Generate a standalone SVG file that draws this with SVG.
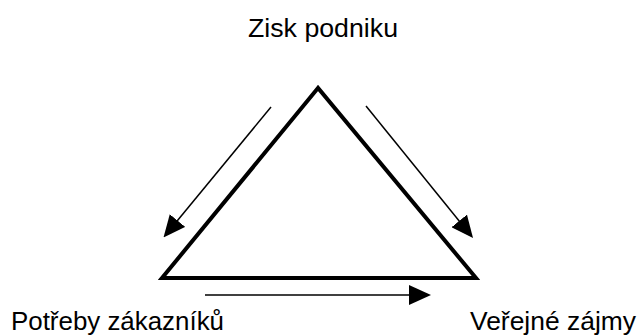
<svg xmlns="http://www.w3.org/2000/svg" width="638" height="336" viewBox="0 0 638 336">
  <defs>
    <marker id="ah" viewBox="0 0 22 20" markerWidth="22" markerHeight="20" refX="11" refY="10" markerUnits="userSpaceOnUse" orient="auto">
      <path d="M0,0 L22,10 L0,20 z" fill="#000"/>
    </marker>
    <style>
      .lbl { font-family: "Liberation Sans", Arial, sans-serif; font-size: 26px; fill: #000; }
      .arrow { stroke: #000; stroke-width: 1.5; fill: none; marker-end: url(#ah); }
      .tri { stroke: #000; stroke-width: 4; fill: #fff; stroke-linejoin: miter; }
    </style>
  </defs>
  <rect width="638" height="336" fill="#fff"/>
  <g id="triangle">
    <polygon class="tri" points="318,88 162,278 476,278"/>
  </g>
  <g id="zisk">
    <text class="lbl" x="323" y="37" text-anchor="middle" textLength="150" lengthAdjust="spacingAndGlyphs">Zisk podniku</text>
  </g>
  <g id="potreby">
    <text class="lbl" x="11" y="330" textLength="213" lengthAdjust="spacingAndGlyphs">Potřeby zákazníků</text>
  </g>
  <g id="verejne">
    <text class="lbl" x="470" y="330" textLength="166" lengthAdjust="spacingAndGlyphs">Veřejné zájmy</text>
  </g>
  <g id="connectors">
    <line class="arrow" x1="271" y1="107" x2="170.5" y2="229"/>
    <line class="arrow" x1="366" y1="106" x2="466.1" y2="229.5"/>
    <line class="arrow" x1="205" y1="295" x2="420" y2="295"/>
  </g>
</svg>
